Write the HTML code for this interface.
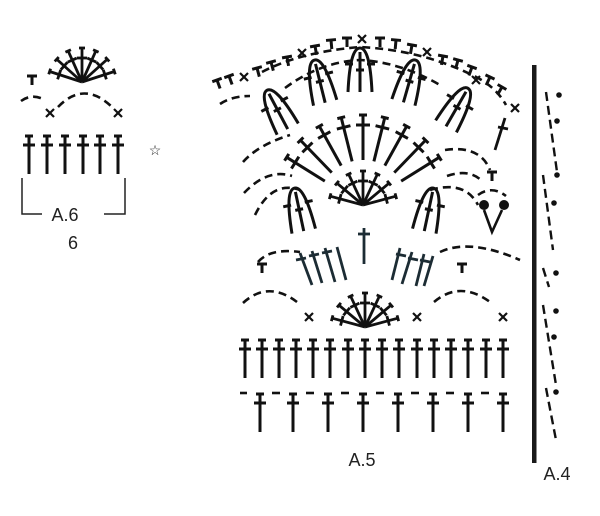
<!DOCTYPE html>
<html><head><meta charset="utf-8"><style>
html,body{margin:0;padding:0;background:#fff;}
svg{display:block;}
text{font-family:"Liberation Sans",sans-serif;fill:#222;}
</style></head><body>
<svg width="600" height="516" viewBox="0 0 600 516" xmlns="http://www.w3.org/2000/svg">
<defs>
<g id="t" stroke="#111" stroke-width="3" fill="none">
<line x1="0" y1="0" x2="0" y2="38"/><line x1="-4" y1="0" x2="4" y2="0"/><line x1="-6" y1="9" x2="6" y2="9"/>
</g>
<g id="ray" stroke="#111" stroke-width="2.8" fill="none">
<line x1="0" y1="0" x2="0" y2="-34"/><line x1="-5" y1="-24" x2="5" y2="-24"/><line x1="-3" y1="-34" x2="3" y2="-34"/>
</g>
<g id="lray" stroke="#111" stroke-width="3" fill="none">
<line x1="0" y1="-45" x2="0" y2="-90"/><line x1="-7" y1="-80" x2="7" y2="-80"/><line x1="-4" y1="-90" x2="4" y2="-90"/>
</g>
<g id="pet" stroke="#111" stroke-width="3" fill="none">
<path d="M-12,42 Q-10,-2 0,-2 Q10,-2 12,42"/><line x1="0" y1="2" x2="0" y2="42"/>
<line x1="-15" y1="14" x2="-7" y2="14"/><line x1="-4" y1="20" x2="4" y2="20"/><line x1="7" y1="14" x2="15" y2="14"/>
</g>
<g id="sT" stroke="#111" stroke-width="3" fill="none"><line x1="-5" y1="0" x2="5" y2="0"/><line x1="0" y1="0" x2="0" y2="9"/></g>
<g id="x" stroke="#111" stroke-width="2.2" fill="none"><line x1="-4" y1="-4" x2="4" y2="4"/><line x1="-4" y1="4" x2="4" y2="-4"/></g>
</defs>

<!-- A.6 -->
<g stroke="#111" stroke-width="2.6" fill="none" stroke-dasharray="8,5">
<path d="M21,101 Q32,93 45,100"/><path d="M58,107 Q84,80 112,107"/>
</g>
<use href="#sT" x="32" y="76"/>
<use href="#x" x="50" y="113"/><use href="#x" x="118" y="113"/>
<g transform="translate(82,82)">
<use href="#ray" transform="rotate(-72)"/><use href="#ray" transform="rotate(-48)"/><use href="#ray" transform="rotate(-24)"/><use href="#ray"/>
<use href="#ray" transform="rotate(24)"/><use href="#ray" transform="rotate(48)"/><use href="#ray" transform="rotate(72)"/>
</g>
<use href="#t" x="29" y="136"/><use href="#t" x="47" y="136"/><use href="#t" x="65" y="136"/><use href="#t" x="83" y="136"/><use href="#t" x="100" y="136"/><use href="#t" x="118" y="136"/>
<text x="155" y="155" font-size="14" text-anchor="middle">☆</text>
<path d="M22,178 V214 H42 M104,214 H125 V178" stroke="#222" stroke-width="1.5" fill="none"/>
<text x="65" y="221" font-size="18" text-anchor="middle">A.6</text>
<text x="73" y="249" font-size="18" text-anchor="middle">6</text>

<!-- A.5 bottom rows -->
<g>
<use href="#t" x="260" y="394"/><use href="#t" x="293" y="394"/><use href="#t" x="328" y="394"/><use href="#t" x="363" y="394"/>
<use href="#t" x="398" y="394"/><use href="#t" x="433" y="394"/><use href="#t" x="468" y="394"/><use href="#t" x="503" y="394"/>
</g>
<g stroke="#111" stroke-width="2.6">
<line x1="240" y1="393" x2="247" y2="393"/><line x1="272" y1="393" x2="280" y2="393"/><line x1="306" y1="393" x2="314" y2="393"/><line x1="341" y1="393" x2="349" y2="393"/>
<line x1="376" y1="393" x2="384" y2="393"/><line x1="411" y1="393" x2="419" y2="393"/><line x1="446" y1="393" x2="454" y2="393"/><line x1="481" y1="393" x2="489" y2="393"/>
</g>
<g>
<use href="#t" x="245" y="340"/><use href="#t" x="262" y="340"/><use href="#t" x="279" y="340"/><use href="#t" x="296" y="340"/>
<use href="#t" x="313" y="340"/><use href="#t" x="330" y="340"/><use href="#t" x="348" y="340"/><use href="#t" x="365" y="340"/>
<use href="#t" x="382" y="340"/><use href="#t" x="399" y="340"/><use href="#t" x="417" y="340"/><use href="#t" x="434" y="340"/>
<use href="#t" x="451" y="340"/><use href="#t" x="468" y="340"/><use href="#t" x="486" y="340"/><use href="#t" x="503" y="340"/>
</g>
<use href="#x" x="309" y="317"/><use href="#x" x="417" y="317"/><use href="#x" x="503" y="317"/>
<g transform="translate(365,327)">
<use href="#ray" transform="rotate(-75)"/><use href="#ray" transform="rotate(-50)"/><use href="#ray" transform="rotate(-25)"/><use href="#ray"/>
<use href="#ray" transform="rotate(25)"/><use href="#ray" transform="rotate(50)"/><use href="#ray" transform="rotate(75)"/>
</g>
<g stroke="#111" stroke-width="2.6" fill="none" stroke-dasharray="8,5">
<path d="M243,303 Q268,280 297,302"/><path d="M434,302 Q460,280 490,302"/>
<path d="M258,262 Q270,248 300,252"/><path d="M440,252 Q470,238 520,260"/>
</g>
<!-- blue-ish row -->
<g>
<use href="#sT" x="262" y="264"/><use href="#sT" x="462" y="264"/>
<g stroke="#1c2c34" stroke-width="2.8">
<line x1="300" y1="253" x2="312" y2="285"/><line x1="312" y1="251" x2="322" y2="283"/><line x1="325" y1="248" x2="335" y2="282"/><line x1="337" y1="247" x2="346" y2="280"/>
<line x1="400" y1="248" x2="392" y2="280"/><line x1="412" y1="252" x2="402" y2="284"/><line x1="424" y1="254" x2="416" y2="286"/><line x1="433" y1="256" x2="424" y2="286"/>
<line x1="364" y1="228" x2="364" y2="264"/><line x1="358" y1="234" x2="370" y2="234"/>
<line x1="296" y1="260" x2="306" y2="258"/><line x1="309" y1="256" x2="319" y2="254"/><line x1="322" y1="253" x2="332" y2="251"/>
<line x1="396" y1="254" x2="406" y2="256"/><line x1="408" y1="258" x2="418" y2="260"/><line x1="420" y1="260" x2="430" y2="262"/>
</g>
</g>
<!-- upper fans -->
<g transform="translate(363,205)">
<use href="#ray" transform="rotate(-75)"/><use href="#ray" transform="rotate(-50)"/><use href="#ray" transform="rotate(-25)"/><use href="#ray"/>
<use href="#ray" transform="rotate(25)"/><use href="#ray" transform="rotate(50)"/><use href="#ray" transform="rotate(75)"/>
</g>
<use href="#pet" transform="translate(295,190) rotate(-12)"/>
<use href="#pet" transform="translate(433,190) rotate(12)"/>
<g transform="translate(363,205)">
<use href="#lray" transform="rotate(-58)"/><use href="#lray" transform="rotate(-44)"/><use href="#lray" transform="rotate(-29)"/><use href="#lray" transform="rotate(-14)"/><use href="#lray"/>
<use href="#lray" transform="rotate(14)"/><use href="#lray" transform="rotate(29)"/><use href="#lray" transform="rotate(44)"/><use href="#lray" transform="rotate(58)"/>
</g>
<use href="#pet" transform="translate(268,92) rotate(-28)"/>
<use href="#pet" transform="translate(315,62) rotate(-14)"/>
<use href="#pet" transform="translate(360,50)"/>
<use href="#pet" transform="translate(415,62) rotate(16)"/>
<use href="#pet" transform="translate(467,90) rotate(30)"/>
<g stroke="#111" stroke-width="2.6" fill="none" stroke-dasharray="8,5">
<path d="M255,215 Q272,180 300,190"/><path d="M430,190 Q465,180 478,205"/>
<path d="M244,193 Q268,168 292,176"/><path d="M447,176 Q470,168 483,182"/>
<path d="M243,162 Q258,145 290,135"/><path d="M445,150 Q480,145 490,170"/>
<path d="M220,104 Q232,96 250,96"/>
<path d="M262,72 Q300,52 360,47 Q420,50 470,74 Q495,85 506,105"/>
<path d="M285,88 Q320,62 360,60 Q400,62 440,85"/>
<path d="M478,195 Q492,185 506,196"/>
</g>
<circle cx="484" cy="205" r="5" fill="#111"/><circle cx="504" cy="205" r="5" fill="#111"/>
<path d="M484,210 L492,232 L502,210" stroke="#111" stroke-width="2.6" fill="none"/>
<use href="#sT" x="492" y="172"/>
<line x1="505" y1="118" x2="495" y2="150" stroke="#111" stroke-width="2.8"/><line x1="498" y1="127" x2="508" y2="129" stroke="#111" stroke-width="2.8"/>
<!-- top chain of T and x -->
<use href="#sT" transform="translate(217,80) rotate(-20)"/><use href="#sT" transform="translate(229,76) rotate(-20)"/><use href="#x" x="244" y="77"/>
<use href="#sT" transform="translate(257,68) rotate(-15)"/><use href="#sT" transform="translate(271,62) rotate(-15)"/><use href="#sT" transform="translate(287,57) rotate(-10)"/><use href="#x" x="302" y="53"/>
<use href="#sT" transform="translate(315,46) rotate(-10)"/><use href="#sT" transform="translate(331,40) rotate(-5)"/><use href="#sT" transform="translate(347,38)"/><use href="#x" x="362" y="39"/>
<use href="#sT" transform="translate(380,38)"/><use href="#sT" transform="translate(396,40) rotate(5)"/><use href="#sT" transform="translate(412,45) rotate(10)"/><use href="#x" x="427" y="52"/>
<use href="#sT" transform="translate(443,56) rotate(10)"/><use href="#sT" transform="translate(458,60) rotate(15)"/><use href="#sT" transform="translate(472,67) rotate(20)"/><use href="#x" x="476" y="80"/>
<use href="#sT" transform="translate(490,77) rotate(25)"/><use href="#sT" transform="translate(502,87) rotate(30)"/><use href="#x" x="515" y="108"/>
<text x="362" y="466" font-size="18" text-anchor="middle">A.5</text>

<!-- A.4 -->
<rect x="532" y="65" width="4.5" height="398" fill="#1a1a1a"/>
<g stroke="#111" stroke-width="2.4" fill="none" stroke-dasharray="9,5">
<line x1="546" y1="92" x2="557" y2="172"/><line x1="543" y1="175" x2="553" y2="250"/>
<line x1="543" y1="268" x2="549" y2="287"/><line x1="543" y1="305" x2="556" y2="385"/><line x1="546" y1="388" x2="556" y2="440"/>
</g>
<g fill="#111"><circle cx="559" cy="95" r="2.8"/><circle cx="557" cy="121" r="2.8"/><circle cx="557" cy="175" r="2.8"/><circle cx="554" cy="203" r="2.8"/>
<circle cx="556" cy="273" r="2.8"/><circle cx="556" cy="311" r="2.8"/><circle cx="554" cy="337" r="2.8"/><circle cx="556" cy="392" r="2.8"/></g>
<text x="557" y="480" font-size="18" text-anchor="middle">A.4</text>
</svg>
</body></html>
